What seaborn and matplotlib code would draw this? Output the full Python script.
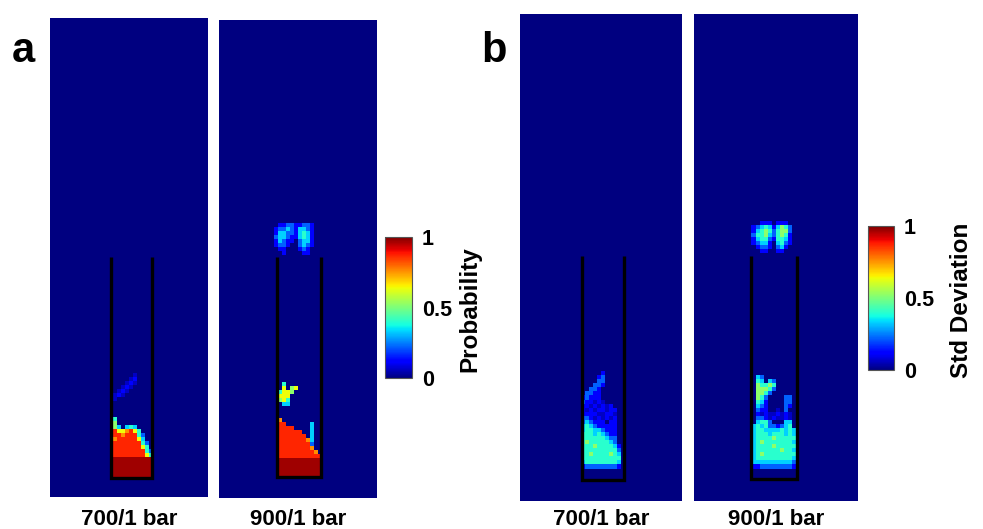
import numpy as np
import pandas as pd
import matplotlib
matplotlib.use("Agg")
import matplotlib.pyplot as plt
import seaborn as sns

sns.set_theme(style="white")
plt.rcParams['font.family'] = ['Liberation Sans', 'DejaVu Sans']
plt.rcParams['text.color'] = 'black'
plt.rcParams['ytick.color'] = 'black'
plt.rcParams['xtick.color'] = 'black'

# ---------------- data ----------------
N_ROWS, N_COLS, COL0 = 120, 40, 13      # grid of each map; stored strings start at column COL0
# code letter -> value on the 0..1 colour scale
LEVELS = {'.': 0.06, '0': 0.0, '1': 0.11, '2': 0.22, '3': 0.33, '4': 0.40,
          '5': 0.52, '6': 0.64, '7': 0.76, '8': 0.87, '9': 0.97}

panel_titles = ["700/1 bar", "900/1 bar", "700/1 bar", "900/1 bar"]
panel_letters = ["a", "b"]
cbar_labels = ["Probability", "Std Deviation"]
cbar_ticks = [0, 0.5, 1]
cbar_ticklabels = ["0", "0.5", "1"]

# probability, 700/1 bar
prob_700 = {
    89: "00000000.00000",
    90: "0000000.100000",
    91: "000000.1.00000",
    92: "00000.1.000000",
    93: "0000.1.0000000",
    94: "000.1.00000000",
    95: "000.0000000000",
    100: "00040000000000",
    101: "00050000000000",
    102: "00053034300000",
    103: "00086678640000",
    104: "00088788842000",
    105: "00078888863000",
    106: "00088888884200",
    107: "00088888886400",
    108: "00088888888420",
    109: "00088888888640",
    110: "00099999999990",
    111: "00099999999990",
    112: "00099999999990",
    113: "00099999999990",
    114: "00099999999990",
}

# probability, 900/1 bar
prob_900 = {
    51: "00112211221000",
    52: "01223213321000",
    53: "01332213431000",
    54: "02332113431000",
    55: "01321102331000",
    56: "01221002321000",
    57: "00110001210000",
    58: "00010000110000",
    91: "00040000000000",
    92: "00060560000000",
    93: "00466500000000",
    94: "00666000000000",
    95: "00564000000000",
    96: "00033000000000",
    100: "00700000000000",
    101: "00880000003000",
    102: "00888800003000",
    103: "00888888003000",
    104: "00888888803000",
    105: "00888888873000",
    106: "00888888882000",
    107: "00888888887000",
    108: "00888888888700",
    109: "00888888888880",
    110: "00999999999990",
    111: "00999999999990",
    112: "00999999999990",
    113: "00999999999990",
    114: "00999999999990",
}

# standard deviation, 700/1 bar
std_700 = {
    88: "00000001000000",
    89: "00000012000000",
    90: "00000022000000",
    91: "00000221000000",
    92: "00002210000000",
    93: "00022110000000",
    94: "00121110000000",
    95: "00211.1.000000",
    96: "0011.1.1.10000",
    97: "001.1.11.11000",
    98: "001111..11.000",
    99: "00221.1.1.1000",
    100: "00232111011000",
    101: "00343211111000",
    102: "00344332111000",
    103: "00444343211000",
    104: "00444444322000",
    105: "00454444432000",
    106: "00444544443100",
    107: "00444444444200",
    108: "00445444454300",
    109: "00444444444400",
    110: "00344444444300",
    111: "00122222222100",
}

# standard deviation, 900/1 bar
std_900 = {
    51: "00011101110000",
    52: "01234313542000",
    53: "01345424552000",
    54: "02445324541000",
    55: "01344214431000",
    56: "01233103421000",
    57: "00122102310000",
    58: "00011001100000",
    89: "00320000000000",
    90: "00430320000000",
    91: "00544540000000",
    92: "00555420000000",
    93: "00554200000000",
    94: "00542000022000",
    95: "00431000022000",
    96: "00321000021000",
    97: "0021100.020000",
    98: "001.1..1.1.000",
    99: "00221.1..1.000",
    100: "00344200033000",
    101: "03434221234000",
    102: "03443333434300",
    103: "03444344434300",
    104: "03444454444400",
    105: "03454444444300",
    106: "03444454444400",
    107: "03444444544300",
    108: "03454444444400",
    109: "03444444444300",
    110: "03333333333200",
    111: "01122222222100",
}

# reactor tube outline (grid units): x = [left, left, right, right], y = [top, bottom, bottom, top]
tube_x = [[15.55, 15.55, 25.82, 25.82], [14.78, 14.78, 25.73, 25.73],
          [15.19, 15.19, 25.80, 25.80], [14.02, 14.02, 25.00, 25.00]]
tube_y = [[59.9, 115.3, 115.3, 59.9], [59.5, 114.8, 114.8, 59.5],
          [59.6, 114.8, 114.8, 59.6], [59.6, 114.5, 114.5, 59.6]]


def to_grid(rows):
    g = np.zeros((N_ROWS, N_COLS))
    for r, s in rows.items():
        for j, ch in enumerate(s):
            g[r, COL0 + j] = LEVELS[ch]
    return pd.DataFrame(g)


# ---------------- figure ----------------
W, H = 983, 529
fig = plt.figure(figsize=(W / 100, H / 100), dpi=100)
cmap = plt.get_cmap("jet")


def frac(x0, y0, x1, y1):
    return [x0 / W, 1 - y1 / H, (x1 - x0) / W, (y1 - y0) / H]


panel_boxes = [frac(50, 18, 208, 497), frac(219, 20, 377, 498),
               frac(520, 14, 682, 501), frac(694, 14, 858, 501)]
cbar_boxes = [frac(385, 237, 412, 378), frac(868, 226, 894, 370)]
maps = [prob_700, prob_900, std_700, std_900]

for i, (box, data) in enumerate(zip(panel_boxes, maps)):
    ax = fig.add_axes(box)
    ax.set_facecolor(cmap(0.0))
    has_cbar = i in (1, 3)
    cax = fig.add_axes(cbar_boxes[i // 2]) if has_cbar else None
    sns.heatmap(to_grid(data), ax=ax, cmap=cmap, vmin=0, vmax=1,
                cbar=has_cbar, cbar_ax=cax,
                cbar_kws={"ticks": cbar_ticks} if has_cbar else None,
                xticklabels=False, yticklabels=False)
    mesh = ax.collections[0]
    mesh.set_edgecolor("face")
    ax.plot(tube_x[i], tube_y[i], color="black", lw=2.4,
            solid_joinstyle="miter", solid_capstyle="butt")
    ax.set_xlim(0, N_COLS)
    ax.set_ylim(N_ROWS, 0)
    for sp in ax.spines.values():
        sp.set_visible(False)
    ax.set_xlabel("")
    ax.set_ylabel("")
    xc = (box[0] + box[2] / 2)
    fig.text(xc, 1 - 525 / H, panel_titles[i], ha="center", va="baseline",
             fontsize=16, fontweight="bold")
    if has_cbar:
        cax.set_yticks(cbar_ticks)
        cax.set_yticklabels(cbar_ticklabels, fontsize=15.5, fontweight="bold")
        cax.tick_params(length=0, pad=7)
        cb = mesh.colorbar
        cb.outline.set_visible(True)
        cb.outline.set_edgecolor("#555555")
        cb.outline.set_linewidth(0.8)

# colorbar titles
fig.text(470 / W, 1 - 309 / H, cbar_labels[0], rotation=90, ha="center", va="center",
         fontsize=17.5, fontweight="bold")
fig.text(962 / W, 1 - 300 / H, cbar_labels[1], rotation=90, ha="center", va="center",
         fontsize=17.5, fontweight="bold")

# panel letters
fig.text(23 / W, 1 - 62 / H, panel_letters[0], ha="center", va="baseline",
         fontsize=30, fontweight="bold")
fig.text(494 / W, 1 - 62 / H, panel_letters[1], ha="center", va="baseline",
         fontsize=30, fontweight="bold")

fig.savefig("out.png", dpi=100, facecolor="white")
